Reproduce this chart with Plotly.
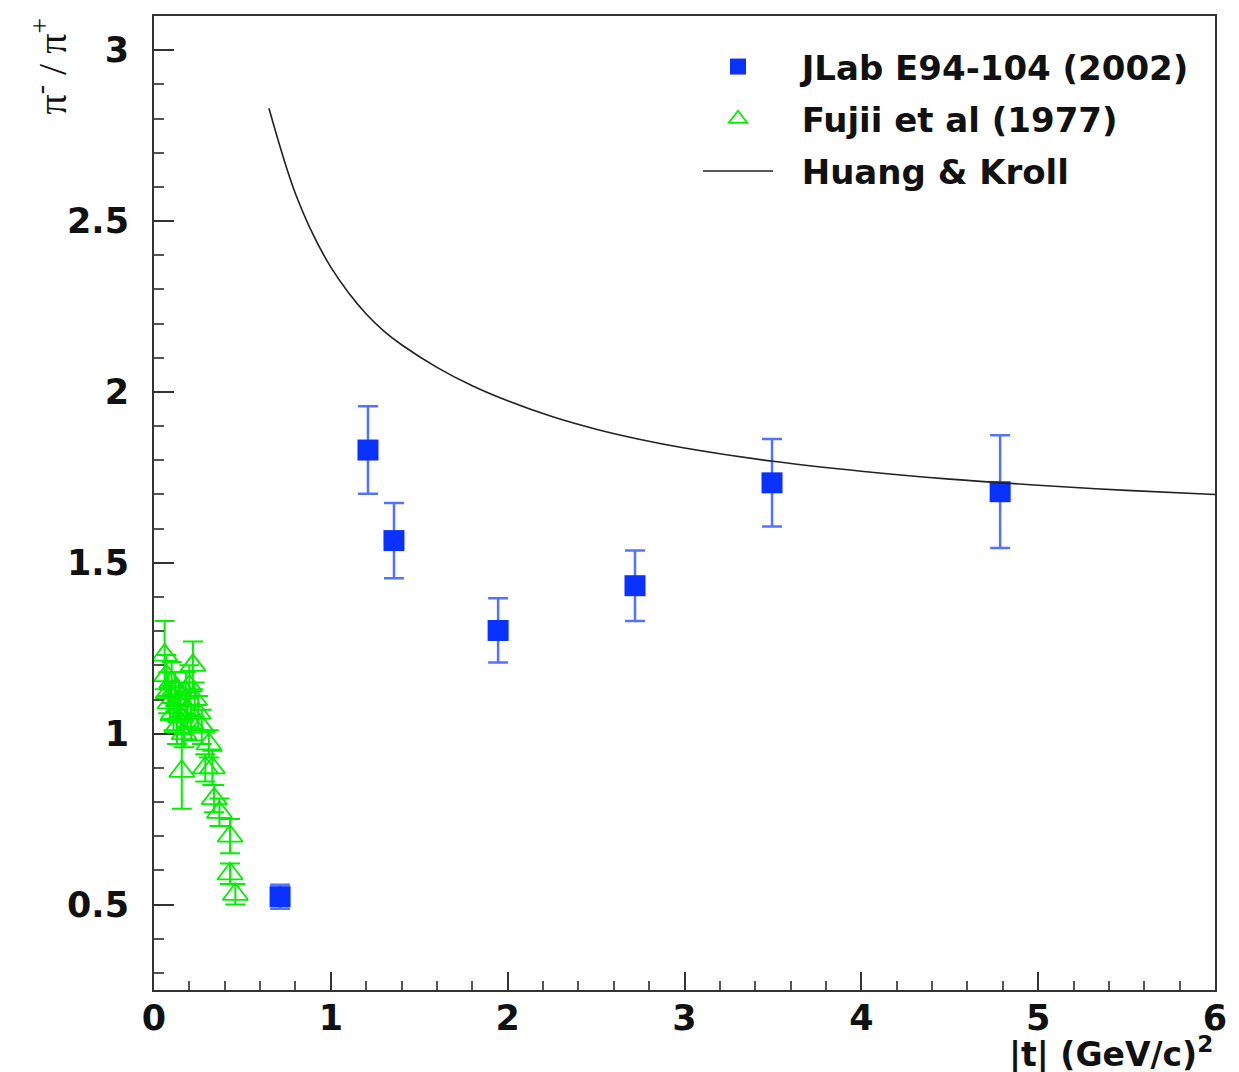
import plotly.graph_objects as go

# JLab E94-104 (2002)
jlab_t = [0.713, 1.21, 1.357, 1.946, 2.72, 3.495, 4.785]
jlab_r = [0.523, 1.830, 1.565, 1.302, 1.433, 1.734, 1.708]
jlab_err = [0.035, 0.128, 0.11, 0.094, 0.103, 0.128, 0.165]

# Fujii et al (1977)
fujii_t = [0.06, 0.07, 0.08, 0.09, 0.10, 0.11, 0.12, 0.13, 0.14, 0.15, 0.157, 0.17,
           0.18, 0.19, 0.20, 0.21, 0.22, 0.23, 0.25, 0.27, 0.29, 0.31, 0.33, 0.34,
           0.37, 0.43, 0.43, 0.46]
fujii_r = [1.23, 1.17, 1.12, 1.09, 1.15, 1.06, 1.13, 1.02, 1.10, 1.05, 0.89, 1.00,
           1.12, 1.07, 1.14, 1.03, 1.20, 1.10, 1.06, 1.02, 0.90, 0.97, 0.90, 0.81,
           0.77, 0.70, 0.59, 0.53]
fujii_err = [0.10, 0.06, 0.06, 0.05, 0.06, 0.05, 0.05, 0.05, 0.05, 0.05, 0.11, 0.04,
             0.06, 0.05, 0.06, 0.05, 0.07, 0.05, 0.05, 0.05, 0.04, 0.04, 0.05, 0.04,
             0.04, 0.05, 0.03, 0.03]

# Huang & Kroll
hk_t = [0.65, 0.7, 0.75, 0.8, 0.9, 1.0, 1.1, 1.2, 1.3, 1.4, 1.6, 1.8, 2.0, 2.25, 2.5,
        2.75, 3.0, 3.5, 4.0, 4.5, 5.0, 5.5, 6.0]
hk_r = [2.83, 2.74, 2.655, 2.58, 2.46, 2.365, 2.29, 2.228, 2.178, 2.138, 2.072, 2.018,
        1.974, 1.928, 1.891, 1.861, 1.836, 1.797, 1.768, 1.745, 1.727, 1.712, 1.70]

x_ticks = [0, 1, 2, 3, 4, 5, 6]
y_ticks = [0.5, 1, 1.5, 2, 2.5, 3]

BLUE = "#0a32ff"
GREEN = "#00f000"
NB = "\u00a0"
SANS = "DejaVu Sans, Liberation Sans, Arial"

fig = go.Figure()
fig.add_trace(go.Scatter(
    x=jlab_t, y=jlab_r, mode="markers", name=NB * 2 + "JLab E94-104 (2002)",
    legendgroup="a",
    marker=dict(symbol="square", size=21, color=BLUE, line=dict(width=0)),
    error_y=dict(type="data", array=jlab_err, color="rgba(40,80,255,0.8)",
                 thickness=2.5, width=10),
))
fig.add_trace(go.Scatter(
    x=fujii_t, y=fujii_r, mode="markers", name=NB * 2 + "Fujii et al (1977)",
    legendgroup="b",
    marker=dict(symbol="triangle-up-open", size=22, color=GREEN,
                line=dict(width=1.8, color=GREEN)),
    error_y=dict(type="data", array=fujii_err, color=GREEN, thickness=2, width=10),
))
fig.add_trace(go.Scatter(
    x=hk_t, y=hk_r, mode="lines", name=NB * 2 + "Huang & Kroll",
    legendgroup="c",
    line=dict(color="#222222", width=1.6, shape="spline"),
))

tick_font = dict(family=SANS, size=35, color="#111", weight="bold")

fig.update_layout(
    width=1239, height=1072,
    margin=dict(l=146, r=32, t=6, b=90),
    paper_bgcolor="white", plot_bgcolor="white",
    showlegend=True,
    legend=dict(x=(698 - 154) / 1061, y=1 - 22 / 976, xanchor="left", yanchor="top",
                bgcolor="rgba(0,0,0,0)", itemwidth=70,
                font=dict(family=SANS, size=34, color="#111", weight="bold"),
                tracegroupgap=5),
    xaxis=dict(range=[0, 6], tickvals=x_ticks, ticks="inside", ticklen=18, tickwidth=2,
               tickcolor="#333", showgrid=False, zeroline=False, showline=True,
               linecolor="#333", linewidth=2, mirror=True, tickfont=tick_font,
               ticklabelstandoff=-4,
               minor=dict(dtick=0.2, ticks="inside", ticklen=9, tickwidth=2,
                          tickcolor="#555", showgrid=False)),
    yaxis=dict(range=[0.25, 3.1], tickvals=y_ticks, ticks="inside", ticklen=20,
               tickwidth=2, tickcolor="#333", showgrid=False, zeroline=False,
               showline=True, linecolor="#333", linewidth=2, mirror=True,
               tickfont=tick_font, ticklabelstandoff=16,
               minor=dict(dtick=0.1, tick0=0, ticks="inside", ticklen=10, tickwidth=2,
                          tickcolor="#555", showgrid=False)),
)

fig.add_annotation(
    text="π<sup>-</sup> / π<sup>+</sup>", textangle=-90, showarrow=False,
    xref="paper", yref="paper", x=(50 - 154) / 1061, y=1, xanchor="center",
    yanchor="top",
    font=dict(family="Liberation Serif, Times New Roman", size=40, color="#111"),
)
fig.add_annotation(
    text="|t| (GeV/c)<sup>2</sup>", showarrow=False,
    xref="paper", yref="paper", x=1.0, y=-(1053 - 990) / 976, xanchor="right",
    yanchor="middle",
    font=dict(family=SANS, size=33, color="#111", weight="bold"),
)

fig.write_html("out.html")
